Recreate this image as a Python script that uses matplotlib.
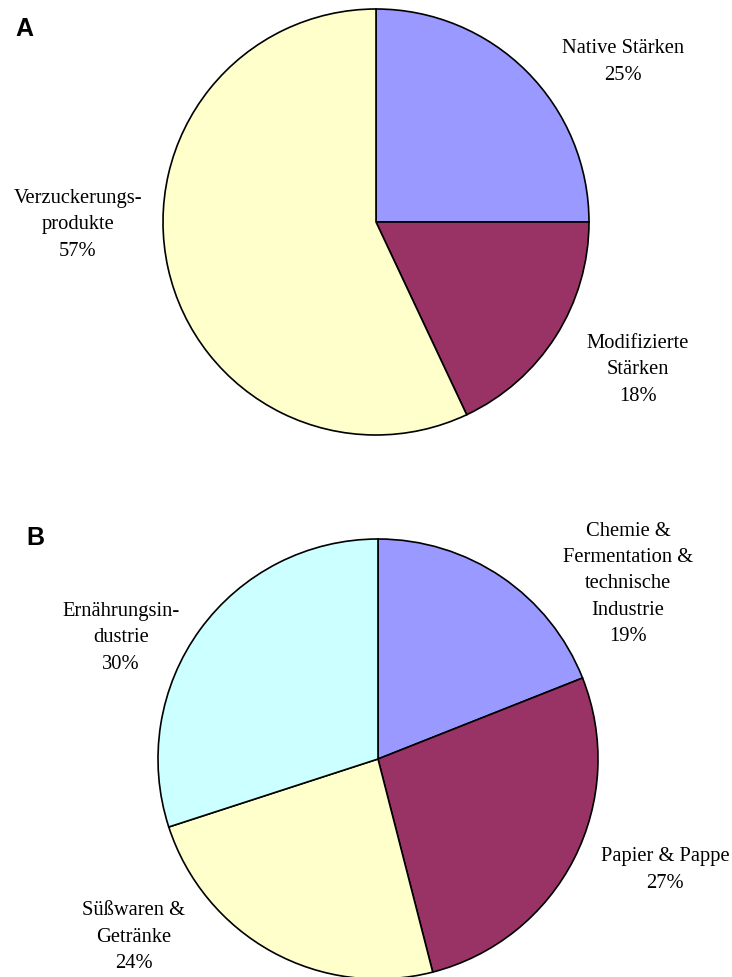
import matplotlib.pyplot as plt

# Panel A: Stärkeprodukte
labels_a = ["Native Stärken\n25%", "Modifizierte\nStärken\n18%", "Verzuckerungs-\nprodukte\n57%"]
values_a = [25, 18, 57]

# Panel B: Verwendung
labels_b = ["Chemie &\nFermentation &\ntechnische\nIndustrie\n19%", "Papier & Pappe\n27%",
            "Süßwaren &\nGetränke\n24%", "Ernährungsin-\ndustrie\n30%"]
values_b = [19, 27, 24, 30]

colors_a = ["#9999FF", "#993366", "#FFFFCC"]
colors_b = ["#9999FF", "#993366", "#FFFFCC", "#CCFFFF"]

W, H = 732, 977
fig = plt.figure(figsize=(W / 100, H / 100), dpi=100)


def px_axes(cx, cy, r):
    return fig.add_axes([(cx - r) / W, (H - cy - r) / H, 2 * r / W, 2 * r / H])


def draw_pie(ax, values, colors):
    ax.pie(values, colors=colors, startangle=90, counterclock=False,
           wedgeprops=dict(edgecolor="black", linewidth=1.2))
    ax.set_xlim(-1, 1)
    ax.set_ylim(-1, 1)
    ax.set_aspect("equal")
    ax.axis("off")


ax_a = px_axes(376, 222, 213)
draw_pie(ax_a, values_a, colors_a)
ax_b = px_axes(378, 759, 220)
draw_pie(ax_b, values_b, colors_b)

# label centres in pixels
pos_a = [(623, 62), (638, 370), (78, 225)]
pos_b = [(628, 584), (665, 870), (134, 937), (121, 638)]

for txt, (x, y) in zip(labels_a + labels_b, pos_a + pos_b):
    fig.text(x / W, 1 - y / H, txt, ha="center", va="center", fontsize=14.8,
             family="Liberation Serif", linespacing=1.52)

fig.text(15 / W, 1 - 29 / H, "A", ha="left", va="center", fontsize=18,
         fontweight="bold", family="Liberation Sans")
fig.text(26 / W, 1 - 538 / H, "B", ha="left", va="center", fontsize=18,
         fontweight="bold", family="Liberation Sans")

fig.savefig("out.png", dpi=100)
